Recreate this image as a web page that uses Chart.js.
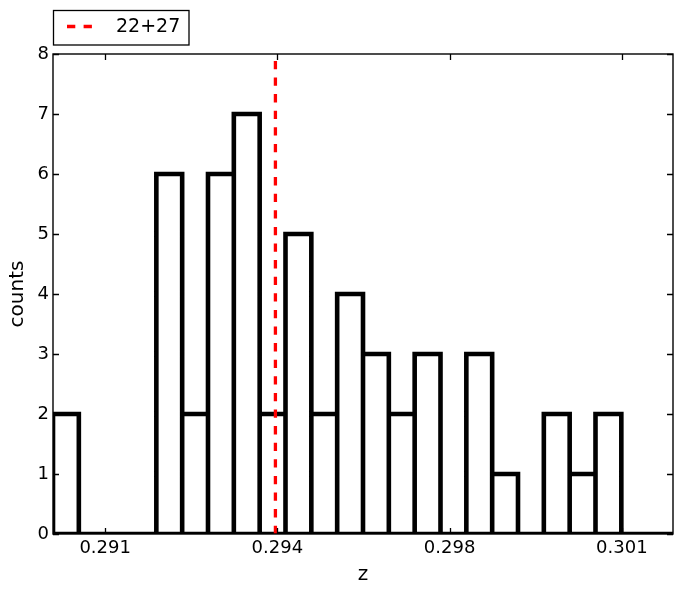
<!DOCTYPE html>
<html><head>
<meta charset="utf-8">
<script src="https://cdn.jsdelivr.net/npm/chart.js@4/dist/chart.umd.min.js"></script>
<style>html,body{margin:0;padding:0;background:#fff}</style>
</head><body>
<canvas id="c" width="682" height="595" style="display:block;width:682px;height:595px"></canvas>
<script>
// ---- data ----
const binEdges = [0.28994, 0.290465, 0.29099, 0.291515, 0.29204, 0.292565, 0.29309, 0.293615,
  0.29414, 0.294665, 0.29519, 0.295715, 0.29624, 0.296765, 0.29729, 0.297815, 0.29834,
  0.298865, 0.29939, 0.299915, 0.30044, 0.300965, 0.30149, 0.302015, 0.30254];
const counts = [2, 0, 0, 0, 6, 2, 6, 7, 2, 5, 2, 4, 3, 2, 3, 0, 3, 1, 0, 2, 1, 2, 0, 0];
const markerZ = 0.29446;
const markerLabel = '22+27';
const xTickValues = [0.291, 0.2945, 0.298, 0.3015];
const xTickLabels = ['0.291', '0.294', '0.298', '0.301'];
const yTickValues = [0, 1, 2, 3, 4, 5, 6, 7, 8];
const xTitle = 'z';
const yTitle = 'counts';

// unfilled bar outlines (one closed rectangle per bin) built from edges and counts
const histPoints = [];
counts.forEach((c, i) => {
  const l = binEdges[i], r = binEdges[i + 1];
  histPoints.push({x: l, y: 0}, {x: l, y: c}, {x: r, y: c}, {x: r, y: 0}, {x: l, y: 0}, {x: r, y: null});
});

const FONT = "'DejaVu Sans', sans-serif";

const framePlugin = {
  id: 'frame',
  afterDatasetsDraw(chart) {
    const {ctx, chartArea: a, scales: {x, y}} = chart;
    ctx.save();
    ctx.strokeStyle = '#000';
    ctx.lineWidth = 1.3;
    ctx.beginPath();
    xTickValues.forEach(v => {
      const px = Math.round(x.getPixelForValue(v)) + 0.5;
      ctx.moveTo(px, a.bottom); ctx.lineTo(px, a.bottom - 6);
      ctx.moveTo(px, a.top); ctx.lineTo(px, a.top + 6);
    });
    yTickValues.forEach(v => {
      const py = Math.round(y.getPixelForValue(v)) + 0.5;
      ctx.moveTo(a.left, py); ctx.lineTo(a.left + 6, py);
      ctx.moveTo(a.right, py); ctx.lineTo(a.right - 6, py);
    });
    ctx.stroke();
    ctx.lineWidth = 1.4;
    ctx.strokeRect(a.left, a.top, a.right - a.left, a.bottom - a.top);
    // legend
    const ds = chart.data.datasets[0];
    ctx.lineWidth = 1.3;
    ctx.strokeRect(53.5, 10.5, 135.5, 34.5);
    ctx.strokeStyle = ds.borderColor;
    ctx.lineWidth = ds.borderWidth;
    ctx.setLineDash(ds.borderDash);
    ctx.beginPath();
    ctx.moveTo(67, 26.5); ctx.lineTo(93.5, 26.5);
    ctx.stroke();
    ctx.setLineDash([]);
    ctx.fillStyle = '#000';
    ctx.font = "19px " + FONT;
    ctx.textBaseline = 'middle';
    ctx.textAlign = 'left';
    ctx.fillText(ds.label, 116, 27.5);
    ctx.restore();
  }
};

new Chart(document.getElementById('c'), {
  type: 'line',
  data: {
    datasets: [
      {
        label: markerLabel,
        data: [{x: markerZ, y: 0}, {x: markerZ, y: 8}],
        borderColor: '#ff0000',
        borderWidth: 3.3,
        borderDash: [8.3, 8.3],
        borderCapStyle: 'butt',
        pointRadius: 0,
        fill: false,
        order: 0
      },
      {
        label: 'hist',
        data: histPoints,
        borderColor: '#000',
        borderWidth: 4.6,
        spanGaps: false,
        pointRadius: 0,
        fill: false,
        borderJoinStyle: 'miter',
        order: 1
      }
    ]
  },
  options: {
    responsive: false,
    maintainAspectRatio: false,
    animation: false,
    devicePixelRatio: 1,
    layout: {padding: {top: 54, right: 9, left: 0, bottom: 0}},
    plugins: {legend: {display: false}, tooltip: {enabled: false}},
    scales: {
      x: {
        type: 'linear',
        min: binEdges[0],
        max: binEdges[binEdges.length - 1],
        afterBuildTicks: s => { s.ticks = xTickValues.map(v => ({value: v})); },
        afterFit: s => { s.height = 61; },
        ticks: {
          callback: (v, i) => xTickLabels[i],
          font: {family: FONT, size: 18},
          color: '#000',
          padding: 4,
          maxRotation: 0,
          autoSkip: false
        },
        grid: {display: false, drawTicks: false},
        border: {display: false},
        title: {display: true, text: xTitle, font: {family: FONT, size: 20}, color: '#000', padding: {top: 0, bottom: 8}}
      },
      y: {
        type: 'linear',
        min: 0,
        max: 8,
        afterBuildTicks: s => { s.ticks = yTickValues.map(v => ({value: v})); },
        afterFit: s => { s.width = 53; },
        ticks: {
          font: {family: FONT, size: 18},
          color: '#000',
          padding: 4,
          autoSkip: false
        },
        grid: {display: false, drawTicks: false},
        border: {display: false},
        title: {display: true, text: yTitle, font: {family: FONT, size: 20}, color: '#000', padding: {top: 6, bottom: 0}}
      }
    }
  },
  plugins: [framePlugin]
});
</script>
</body></html>
